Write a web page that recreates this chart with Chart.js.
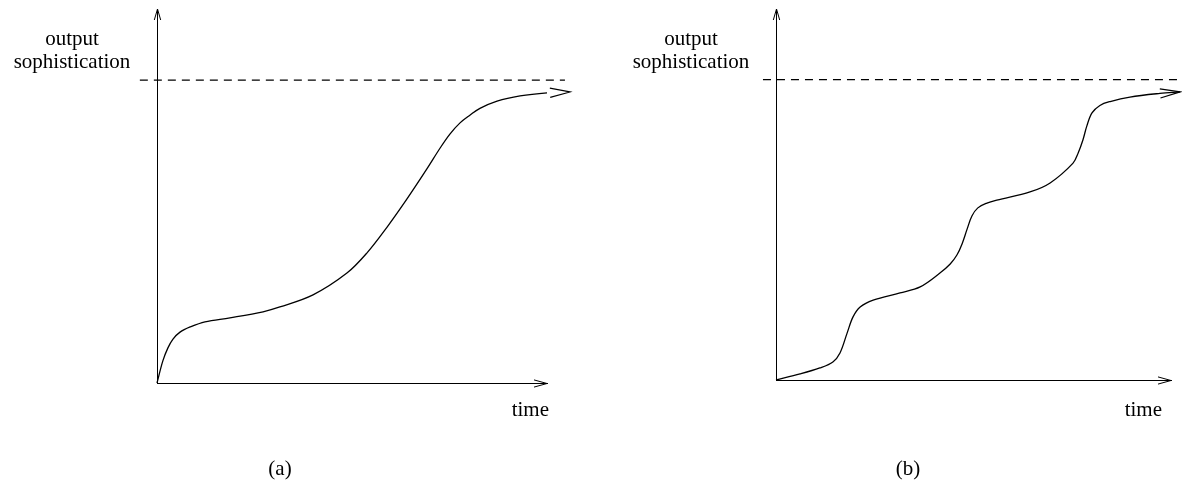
<!DOCTYPE html>
<html><head><meta charset="utf-8">
<script src="https://cdn.jsdelivr.net/npm/chart.js@4/dist/chart.umd.min.js"></script>
<style>
html,body{margin:0;padding:0;background:#fff;}
#wrap{position:relative;width:1182px;height:480px;overflow:hidden;}
.panel{position:absolute;top:0;width:591px;height:480px;}
</style></head><body>
<div id="wrap">
  <div class="panel" style="left:0"><canvas id="ca" width="591" height="480"></canvas></div>
  <div class="panel" style="left:591px"><canvas id="cb" width="591" height="480"></canvas></div>
</div>
<script>
// ---- data (time units 0..10 along the drawn axis, sophistication with ceiling at 10) ----
const panelCaptions = ['(a)', '(b)'];
const yAxisLabel = ['output', 'sophistication'];
const xAxisLabel = 'time';
const ceilingLevel = [10, 10];

const aTime  = [0, 0.15, 0.28, 0.41, 0.59, 0.85, 1.23, 1.87, 2.72, 3.15, 4.00, 4.87, 5.38, 5.90, 6.41, 6.92, 7.26, 7.51, 7.77, 8.03, 8.28, 8.72, 9.31, 10.00, 10.59];
const aLevel = [0, 0.73, 1.16, 1.45, 1.68, 1.85, 2.02, 2.15, 2.35, 2.51, 2.91, 3.63, 4.29, 5.15, 6.08, 7.07, 7.76, 8.22, 8.59, 8.85, 9.07, 9.31, 9.48, 9.58, 9.61];
const aCeilingTime = [-0.44, 10.46];

const bTime  = [0, 0.61, 1.11, 1.44, 1.62, 1.80, 1.95, 2.13, 2.46, 3.14, 3.65, 4.15, 4.41, 4.58, 4.71, 4.84, 4.96, 5.11, 5.34, 5.59, 6.43, 6.94, 7.52, 7.65, 7.77, 7.87, 8.00, 8.20, 8.46, 8.96, 9.72, 10.23];
const bLevel = [0, 0.20, 0.40, 0.60, 0.90, 1.56, 2.10, 2.43, 2.66, 2.90, 3.10, 3.56, 3.86, 4.16, 4.53, 5.03, 5.46, 5.73, 5.89, 5.99, 6.26, 6.56, 7.22, 7.56, 7.99, 8.46, 8.89, 9.14, 9.27, 9.42, 9.54, 9.59];
const bCeilingTime = [-0.33, 10.7];

// ---- drawing helpers ----
function arrowHead(ctx, x, y, angle, len, half) {
  const bx = x - len * Math.cos(angle), by = y - len * Math.sin(angle);
  const px = -Math.sin(angle) * half, py = Math.cos(angle) * half;
  ctx.beginPath();
  ctx.moveTo(bx + px, by + py);
  ctx.lineTo(x, y);
  ctx.lineTo(bx - px, by - py);
  ctx.stroke();
}

const sketchPlugin = {
  id: 'sketch',
  afterDatasetsDraw(chart, args, opts) {
    const ctx = chart.ctx;
    const ca = chart.chartArea;
    ctx.save();
    ctx.strokeStyle = '#000';
    ctx.lineWidth = 1;
    // axis arrowheads
    arrowHead(ctx, ca.left + 0.5, ca.top, -Math.PI / 2, 11, 3.2);
    arrowHead(ctx, ca.right, ca.bottom + 0.5, 0, 13, 3.6);
    // curve arrowhead
    const meta = chart.getDatasetMeta(0);
    const n = meta.data.length;
    const p1 = meta.data[n - 2], p2 = meta.data[n - 1];
    const ang = Math.atan2(p2.y - p1.y, p2.x - p1.x);
    ctx.lineWidth = 1.2;
    arrowHead(ctx, p2.x, p2.y, ang, 20, 4.6);
    // texts
    ctx.fillStyle = '#000';
    ctx.font = '21px "Liberation Serif", "Times New Roman", serif';
    ctx.textBaseline = 'alphabetic';
    ctx.textAlign = 'center';
    ctx.fillText(yAxisLabel[0], ca.left - 85, ca.top + 36);
    ctx.fillText(yAxisLabel[1], ca.left - 85, ca.top + 59);
    ctx.textAlign = 'right';
    ctx.fillText(xAxisLabel, ca.right + opts.timeDx, 416);
    ctx.textAlign = 'center';
    ctx.fillText(opts.caption, opts.captionX, 475);
    ctx.restore();
  }
};

function makePanel(id, times, levels, ceilTimes, caption, padding, timeDx, captionX) {
  const curve = times.map((t, i) => ({x: t, y: levels[i]}));
  const ceiling = ceilTimes.map((t, i) => ({x: t, y: ceilingLevel[i]}));
  const axisOpts = (fitKey) => ({
    type: 'linear',
    display: true,
    ticks: {display: false},
    grid: {display: false, drawTicks: false},
    border: {display: true, color: '#000', width: 1},
    afterFit(s) { s[fitKey] = 0; }
  });
  return new Chart(document.getElementById(id), {
    type: 'line',
    data: {
      datasets: [
        {data: curve, borderColor: '#000', borderWidth: 1.3, pointRadius: 0,
         tension: 0.35, fill: false, clip: false},
        {data: ceiling, borderColor: '#000', borderWidth: 1.1, borderDash: [8, 6],
         pointRadius: 0, fill: false, clip: false}
      ]
    },
    options: {
      responsive: false,
      animation: false,
      events: [],
      layout: {padding: padding},
      plugins: {
        legend: {display: false},
        tooltip: {enabled: false},
        title: {display: false},
        sketch: {timeDx: timeDx, caption: caption, captionX: captionX}
      },
      scales: {
        x: Object.assign(axisOpts('height'), {min: 0, max: 10}),
        y: Object.assign(axisOpts('width'), {min: 0, max: 12.35})
      }
    },
    plugins: [sketchPlugin]
  });
}

makePanel('ca', aTime, aLevel, aCeilingTime, panelCaptions[0],
  {left: 157, right: 44, top: 9, bottom: 97}, 2, 280);
makePanel('cb', bTime, bLevel, bCeilingTime, panelCaptions[1],
  {left: 185, right: 11, top: 9, bottom: 100}, -9, 317);
</script>
</body></html>
